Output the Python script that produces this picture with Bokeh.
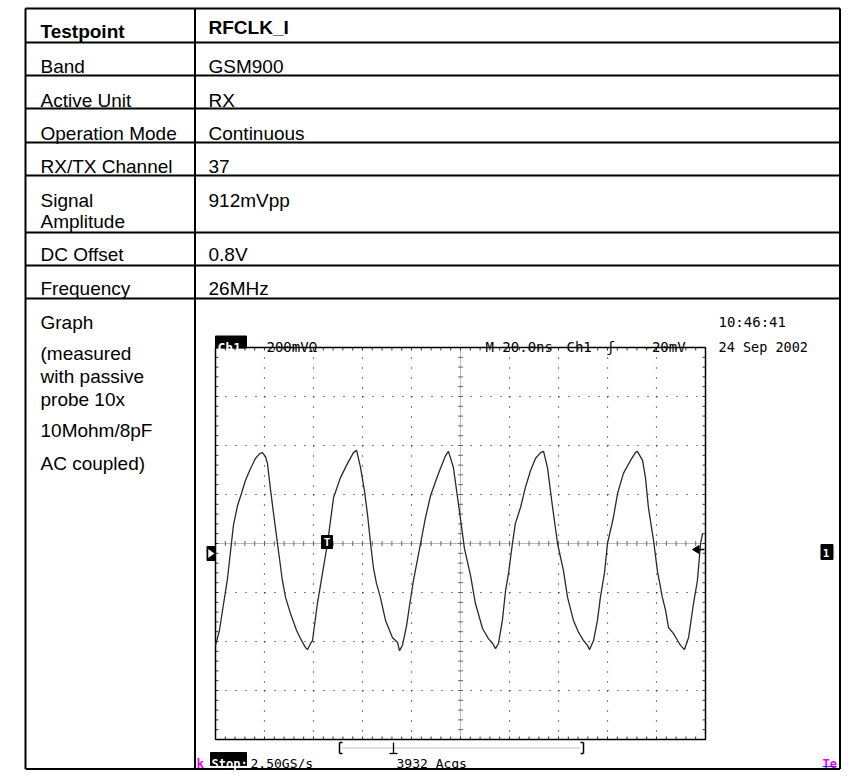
from bokeh.plotting import figure
from bokeh.models import Range1d
from bokeh.core.properties import value
from bokeh.embed import file_html
from bokeh.resources import INLINE
import numpy as np

# ---------------- data ----------------
row_labels = ["Testpoint", "Band", "Active Unit", "Operation Mode", "RX/TX Channel",
              "Signal", "DC Offset", "Frequency"]
row_label2 = {"Signal": "Amplitude"}
row_values = ["RFCLK_I", "GSM900", "RX", "Continuous", "37", "912mVpp", "0.8V", "26MHz"]
graph_label = ["Graph", "(measured", "with passive", "probe 10x", "10Mohm/8pF", "AC coupled)"]

# oscilloscope settings (20 ns/div, 200 mV/div, 10 x 8 divisions)
t_per_div = 20.0
v_per_div = 200.0
n_div_x = 10
n_div_y = 8

# waveform (time in ns from left edge, voltage in mV)
time_ns = [0.0, 1.6, 3.3, 4.9, 7.3, 9.0, 10.6, 12.2, 14.3, 16.3, 18.0, 19.2,
           20.4, 21.2, 22.4, 23.7, 25.3, 27.3, 28.6, 30.6, 33.1, 34.7, 36.7, 37.6,
           38.8, 39.6, 41.6, 43.3, 45.7, 48.2, 51.0, 53.9, 56.3, 57.6,
           59.2, 60.8, 62.0, 63.3, 64.5, 65.7, 67.3, 69.4, 72.2, 74.3, 75.1,
           76.3, 78.0, 79.2, 80.8, 83.7, 85.7, 87.8, 91.0, 93.9, 95.1,
           97.1, 98.8, 100.8, 101.6, 104.1, 106.1, 109.0, 111.4, 113.1, 114.3,
           115.5, 117.1, 118.4, 119.6, 121.2, 122.4, 124.5, 126.5, 128.6, 130.6, 132.7, 133.9,
           135.5, 137.6, 139.6, 142.0, 143.7, 146.1, 148.2, 150.2, 151.8, 152.7,
           154.3, 155.9, 157.1, 158.8, 160.0, 162.4, 164.1, 166.5, 169.4, 171.4, 172.2,
           174.3, 175.5, 176.7, 178.8, 180.4, 182.4, 183.7, 184.9, 186.9, 188.6, 189.8, 191.4,
           193.1, 195.1, 196.7, 198.0, 198.8]
volt_mV = [-416, -355, -245, -143, 73, 155, 204, 257, 306, 347, 367, 371,
           355, 327, 224, 122, 0, -151, -220, -286, -355, -388, -424, -433,
           -408, -396, -245, -143, 0, 188, 269, 327, 371, 380,
           310, 216, 122, 0, -102, -163, -220, -314, -384, -404, -437,
           -416, -335, -253, -151, 0, 106, 196, 286, 359, 376,
           310, 188, 41, -20, -131, -245, -347, -388, -408, -429,
           -408, -314, -192, -122, 0, 82, 147, 229, 298, 347, 371, 376,
           310, 147, 0, -110, -220, -314, -363, -396, -416, -433,
           -396, -314, -220, -118, 0, 106, 204, 286, 339, 371, 376,
           339, 269, 147, 12, -114, -220, -273, -343, -367, -396, -416, -433,
           -384, -245, -151, 0, 41]

scope_top_left = ["Ch1", "200mVΩ"]
scope_top_mid = ["M 20.0ns", "Ch1", "ʃ", "−20mV"]
scope_time = "10:46:41"
scope_date = "24 Sep 2002"
scope_bottom = ["Stop:", "2.50GS/s", "3932 Acqs"]

# ---------------- layout (pixels from the picture's top-left) ----------------
X0, X1, Y0, Y1 = 0, 841, 0, 770
W, H = X1 - X0, Y1 - Y0
TL, TR, TC = 25, 839.5, 194.5
ROW_Y = [8, 42, 75, 108, 142, 175, 232, 265, 298, 768.5]
LABEL_BASE = [31, 66, 99.5, 132.5, 166, 200, 254, 287.5]
VALUE_BASE = [27, 66, 99.5, 132.5, 166, 200, 254, 287.5]
AMPL_BASE = 221
GRAPH_BASE = [322, 353, 376, 398.5, 430, 463]
LX, VX = 40, 208

# graticule position in pixels
GL, GT, GW, GH = 215, 347, 490, 392

p = figure(width=W, height=H, output_backend="svg", toolbar_location=None,
           x_range=Range1d(X0, X1), y_range=Range1d(Y1, Y0),
           x_axis_type=None, y_axis_type=None, min_border=0)
p.grid.visible = False
p.outline_line_color = None
p.background_fill_color = "white"
p.border_fill_color = "white"

t_max = n_div_x * t_per_div
v_half = n_div_y / 2 * v_per_div
ppt = GW / t_max          # px per ns
ppv = GH / (2 * v_half)   # px per mV
p.extra_x_ranges = {"t": Range1d((X0 - GL) / ppt, (X1 - GL) / ppt)}
p.extra_y_ranges = {"v": Range1d(v_half - (Y1 - GT) / ppv, v_half + (GT - Y0) / ppv)}
S = dict(x_range_name="t", y_range_name="v")

SANS = "Liberation Sans"
MONO = "DejaVu Sans Mono"


def txt(x, y, s, size="19px", bold=False, color="black", font=SANS,
        align="left", baseline="alphabetic", **kw):
    p.text(x=[x], y=[y], text=[s], text_font=value(font), text_font_size=size,
           text_font_style="bold" if bold else "normal", text_color=color,
           text_align=align, text_baseline=baseline, **kw)


# ---------------- table ----------------
p.segment(x0=[TL] * len(ROW_Y), x1=[TR] * len(ROW_Y), y0=ROW_Y, y1=ROW_Y,
          line_color="black", line_width=2)
p.segment(x0=[TL, TC, TR], x1=[TL, TC, TR], y0=[ROW_Y[0]] * 3, y1=[ROW_Y[-1]] * 3,
          line_color="black", line_width=2)

for i, (lab, val) in enumerate(zip(row_labels, row_values)):
    bold = i == 0
    txt(LX, LABEL_BASE[i], lab, bold=bold)
    txt(VX, VALUE_BASE[i], val, bold=bold)
    if lab in row_label2:
        txt(LX, AMPL_BASE, row_label2[lab])
for yb, s in zip(GRAPH_BASE, graph_label):
    txt(LX, yb, s)

# ---------------- scope graticule ----------------
minor_t = t_per_div / 5
minor_v = v_per_div / 5
vx = [t_per_div * k for k in range(1, n_div_x) if k != n_div_x // 2]
vseg_y0 = [v_half - j * v_per_div for j in range(n_div_y)]
gx0, gx1, gy0, gy1 = [], [], [], []
for t in vx:
    for y0 in vseg_y0:
        gx0.append(t); gx1.append(t); gy0.append(y0); gy1.append(y0 - v_per_div)
hy = [v_per_div * k for k in range(-n_div_y // 2 + 1, n_div_y // 2) if k != 0]
for v in hy:
    for j in range(n_div_x):
        gx0.append(j * t_per_div); gx1.append((j + 1) * t_per_div); gy0.append(v); gy1.append(v)
p.segment(x0=gx0, x1=gx1, y0=gy0, y1=gy1, line_color="#111111", line_width=1.2,
          line_dash="1 9", **S)
# centre cross
p.segment(x0=[0, t_max / 2], x1=[t_max, t_max / 2], y0=[0, v_half], y1=[0, -v_half],
          line_color="#777777", line_width=1, line_dash="1 1", **S)
tk = np.arange(0, t_max + 0.01, minor_t)
vk = np.arange(-v_half, v_half + 0.01, minor_v)
dv = 2.5 / ppv
dt = 2.5 / ppt
p.segment(x0=tk, x1=tk, y0=[-dv] * len(tk), y1=[dv] * len(tk),
          line_color="#666666", line_width=1, **S)
p.segment(x0=[t_max / 2 - dt] * len(vk), x1=[t_max / 2 + dt] * len(vk), y0=vk, y1=vk,
          line_color="#666666", line_width=1, **S)
# border ticks
bt = 3 / ppv
bx = 3 / ppt
p.segment(x0=tk, x1=tk, y0=[v_half] * len(tk), y1=[v_half - bt] * len(tk),
          line_color="#333333", line_width=1, **S)
p.segment(x0=tk, x1=tk, y0=[-v_half] * len(tk), y1=[-v_half + bt] * len(tk),
          line_color="#333333", line_width=1, **S)
p.segment(x0=[0] * len(vk), x1=[bx] * len(vk), y0=vk, y1=vk,
          line_color="#333333", line_width=1, **S)
p.segment(x0=[t_max] * len(vk), x1=[t_max - bx] * len(vk), y0=vk, y1=vk,
          line_color="#333333", line_width=1, **S)
p.quad(left=[0], right=[t_max], bottom=[-v_half], top=[v_half], fill_color=None,
       line_color="black", line_width=1.5, **S)

# waveform
p.line(time_ns, volt_mV, line_color="#2a2a2a", line_width=1.3, **S)

# ---------------- scope markers ----------------
p.rect(x=[326.5], y=[541.5], width=11, height=13, fill_color="black", line_color="black")
txt(326.5, 542, "T", size="11px", bold=True, color="white", font=MONO,
    align="center", baseline="middle")
p.rect(x=[210.5], y=[553], width=8, height=14, fill_color="black", line_color="black")
p.patch([208, 208, 213.5], [549, 557, 553], fill_color="white", line_color="white", line_width=0.5)
p.patch([692, 698.5, 698.5], [549, 545, 553], fill_color="black", line_color="black")
p.segment(x0=[698], x1=[704], y0=[549], y1=[549], line_color="black", line_width=1.5)
p.rect(x=[826.5], y=[551.5], width=12, height=15, fill_color="black", line_color="black")
txt(825.5, 552, "1", size="11px", bold=True, color="white", font=MONO,
    align="center", baseline="middle")

# top readouts
p.rect(x=[230.5], y=[341.5], width=31, height=12, fill_color="black", line_color="black")
txt(217, 346.5, scope_top_left[0], size="13px", bold=True, color="white", font=MONO)
txt(266, 346.5, scope_top_left[1], size="14px", font=MONO)
for x, s in zip([485, 566, 606, 643], scope_top_mid):
    txt(x, 346.5, s, size="14px", font=MONO)
txt(718, 321, scope_time, size="14px", font=MONO)
txt(718, 346.5, scope_date, size="13.5px", font=MONO)

# record bar
RB0, RB1 = 742, 753
p.segment(x0=[339, 583], x1=[339, 583], y0=[RB0, RB0], y1=[RB1, RB1],
          line_color="black", line_width=1.5)
p.segment(x0=[339, 339, 580, 580], x1=[342, 342, 583, 583], y0=[RB0, RB1, RB0, RB1],
          y1=[RB0, RB1, RB0, RB1], line_color="black", line_width=1.5)
p.segment(x0=[342], x1=[580], y0=[747.5], y1=[747.5], line_color="#777777", line_width=1,
          line_dash="1 1")
p.segment(x0=[393, 389], x1=[393, 397], y0=[RB0, RB1], y1=[RB1, RB1],
          line_color="black", line_width=1.3)

# bottom readouts
BB = 763
txt(196, BB, "k", size="12.5px", bold=True, color="#e600e6", font=MONO)
p.rect(x=[228], y=[BB - 4.5], width=36, height=13, fill_color="black", line_color="black")
txt(211, BB, scope_bottom[0], size="12px", bold=True, color="white", font=MONO)
txt(250, BB, scope_bottom[1], size="13px", font=MONO)
txt(396, BB, scope_bottom[2], size="13px", font=MONO)
txt(822, BB, "Te", size="12px", bold=True, color="#e600e6", font=MONO)
p.segment(x0=[822], x1=[836], y0=[BB + 3], y1=[BB + 3], line_color="#3030ff", line_width=1)

open("out.html", "w").write(file_html(p, INLINE))
